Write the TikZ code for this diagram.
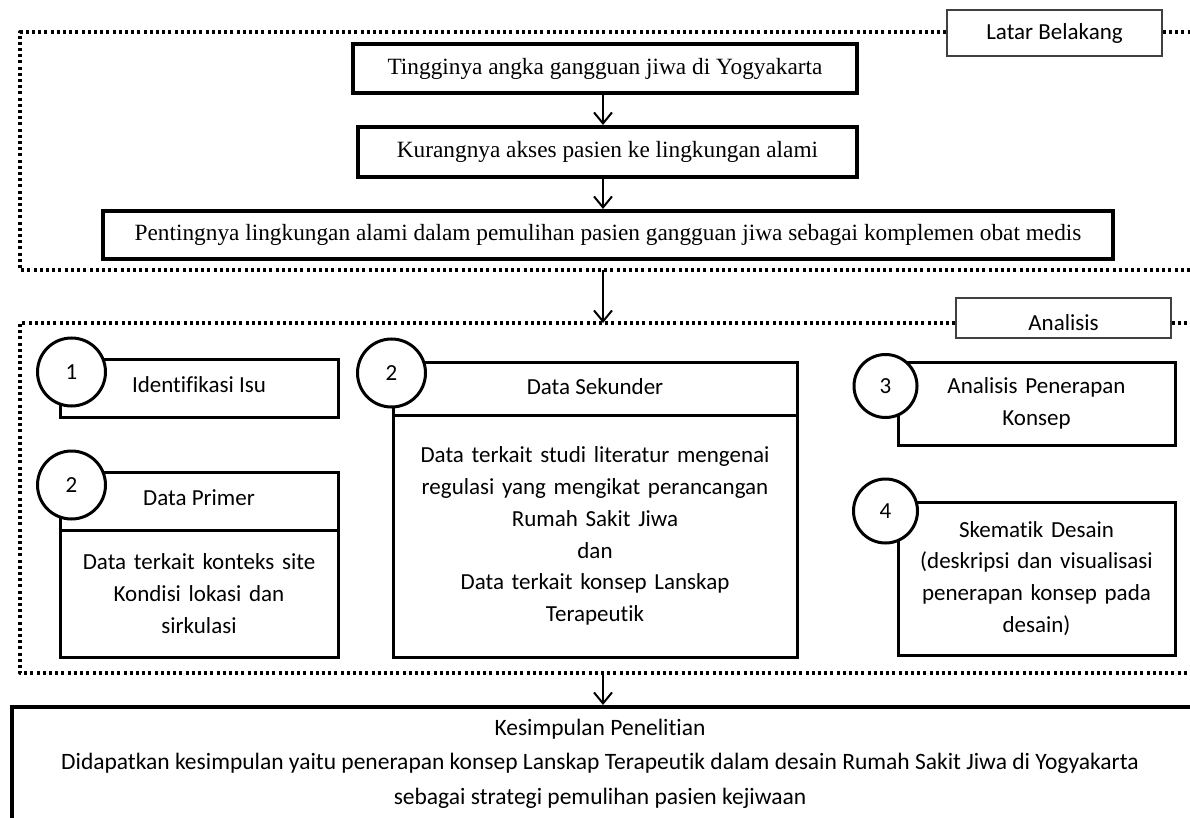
\documentclass[tikz,border=0pt]{standalone}
\usepackage{fontspec}
\setmainfont{Carlito}[Ligatures=NoCommon]
\newfontfamily\serifface{Liberation Serif}
\usetikzlibrary{arrows.meta}
\tikzset{
  x=1pt, y=-1pt,
  dotline/.style={line width=3.2pt, dash pattern=on 3pt off 3.2pt, line join=round},
  topbox/.style={draw, line width=4pt, rectangle, inner sep=0pt, font=\serifface\fontsize{23.3}{27}\selectfont},
  lblbox/.style={draw=black!75, line width=1.4pt, rectangle, inner sep=0pt},
  numbox/.style={draw, line width=3pt, rectangle, inner sep=0pt, align=center, font=\fontsize{23}{31.8}\selectfont},
  numcirc/.style={draw, line width=3pt, circle, fill=white, minimum size=68pt, inner sep=0pt, font=\fontsize{23}{26}\selectfont},
  txt/.style={inner sep=0pt, align=center, font=\fontsize{23}{26}\selectfont},
  arr/.style={line width=2pt, -{Straight Barb[length=11pt,width=18pt,line width=2pt]}},
}
\begin{document}
\begin{tikzpicture}
\useasboundingbox (0,0) rectangle (1190,818);
% containers
\node[lblbox, minimum width=215pt, minimum height=46pt] (lb) at (1054.5,33) {};
\node[txt] (lbt) at (1054.5,33) {Latar Belakang};
\draw[dotline] (lb.west |- 0,32) -- (20,32) -- (20,270) -- (1190,270);
\draw[dotline] (lb.east |- 0,32) -- (1192,32);
\coordinate (c1) at (603,270);

\node[lblbox, minimum width=215pt, minimum height=40pt] (an) at (1063.5,318) {};
\node[txt] (ant) at (1063.5,323) {Analisis};
\draw[dotline] (an.west |- 0,323) -- (20,323) -- (20,673) -- (1190,673);
\draw[dotline] (an.east |- 0,323) -- (1192,323);
\coordinate (c2t) at (603,323);
\coordinate (c2b) at (603,673);

% top boxes
\node[topbox, minimum width=504pt, minimum height=49pt] (A) at (605,68.5) {Tingginya angka gangguan jiwa di Yogyakarta};
\node[topbox, minimum width=499pt, minimum height=50pt] (B) at (607.5,152) {Kurangnya akses pasien ke lingkungan alami};
\node[topbox, minimum width=1010pt, minimum height=48pt] (C) at (608,235) {Pentingnya lingkungan alami dalam pemulihan pasien gangguan jiwa sebagai komplemen obat medis};
\coordinate (ax) at (603,0);
\draw[arr] (A.south -| ax) -- (B.north -| ax);
\draw[arr] (B.south -| ax) -- (C.north -| ax);
\draw[arr] (c1) -- (c2t);

% analysis boxes
\node[numbox, minimum width=278pt, minimum height=58pt] (i1) at (199,388) {};
\node[txt] (i1t) at (199,385) {Identifikasi Isu};
\node[numcirc] (n1) at (71.5,372) {1};

\node[numbox, minimum width=278pt, minimum height=58pt] (p1) at (199,501) {};
\node[txt] (p1t) at (199,498) {Data Primer};
\node[numbox, minimum width=278pt, minimum height=127pt, text width=266pt] (p2) at (199,593.5) {Data terkait konteks site\\Kondisi lokasi dan\\sirkulasi};
\node[numcirc] (n2) at (71.5,485) {2};

\node[numbox, minimum width=404pt, minimum height=53pt] (s1) at (595,388.5) {};
\node[txt] (s1t) at (595,387) {Data Sekunder};
\node[numbox, minimum width=404pt, minimum height=242pt, text width=394pt] (s2) at (595,536) {Data terkait studi literatur mengenai\\regulasi yang mengikat perancangan\\Rumah Sakit Jiwa\\dan\\Data terkait konsep Lanskap\\Terapeutik};
\node[numcirc] (n3) at (391.5,373) {2};

\node[numbox, minimum width=277pt, minimum height=83pt, text width=268pt] (a3) at (1036.5,403.5) {Analisis Penerapan\\Konsep};
\node[numcirc, minimum size=63pt] (n4) at (885.5,386) {3};

\node[numbox, minimum width=277pt, minimum height=153pt, text width=268pt] (a4) at (1036.5,578.5) {Skematik Desain\\(deskripsi dan visualisasi\\penerapan konsep pada\\desain)};
\node[numcirc, minimum size=64pt] (n5) at (885.5,511) {4};

% conclusion
\node[draw, line width=3.5pt, rectangle, inner sep=0pt, minimum width=1200pt, minimum height=140pt, anchor=north west] (K) at (10,705) {};
\node[txt, font=\fontsize{23.5}{34.5}\selectfont] (Kt) at (600,763.5) {Kesimpulan Penelitian\\Didapatkan kesimpulan yaitu penerapan konsep Lanskap Terapeutik dalam desain Rumah Sakit Jiwa di Yogyakarta\\sebagai strategi pemulihan pasien kejiwaan};
\draw[arr] (c2b) -- (K.north -| ax);
\end{tikzpicture}
\end{document}
